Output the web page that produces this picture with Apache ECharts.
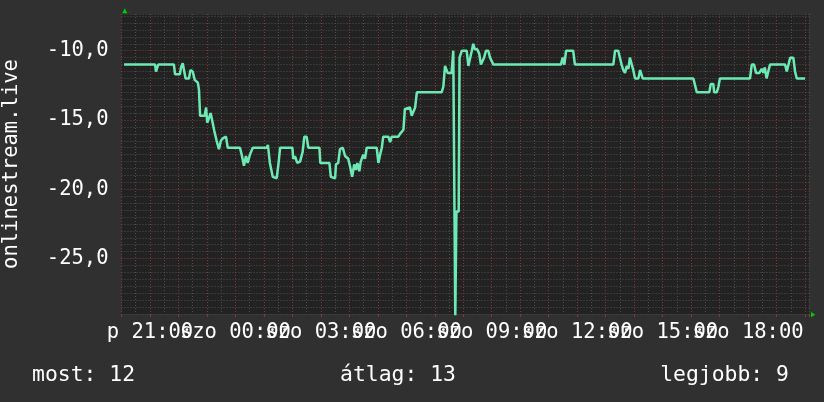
<!DOCTYPE html>
<html>
<head>
<meta charset="utf-8">
<script src="https://cdn.jsdelivr.net/npm/echarts@6/dist/echarts.min.js"></script>
<style>
html,body{margin:0;padding:0;background:#303030;}
#chart{width:824px;height:402px;}
</style>
</head>
<body>
<div id="chart"></div>
<script>
// time in hours since Friday 00:00 (24 = Saturday 00:00)
const times = [
20.09,21.18,21.21,21.29,21.84,21.88,22.05,22.09,22.15,22.21,22.25,22.37,22.42,22.50,22.57,22.68,22.72,22.76,22.92,22.97,
23.01,23.08,23.13,23.20,23.26,23.34,23.42,23.49,23.57,23.67,23.73,24.16,24.22,24.30,24.37,24.43,24.51,24.61,25.10,25.14,
25.21,25.31,25.45,25.51,25.57,26.00,26.03,26.09,26.17,26.27,26.36,26.42,26.50,26.56,26.95,26.98,27.30,27.35,27.50,27.53,
27.61,27.67,27.77,27.85,27.96,28.02,28.10,28.14,28.17,28.23,28.28,28.35,28.40,28.49,28.55,28.61,28.96,29.02,29.08,29.14,
29.19,29.37,29.43,29.49,29.72,29.78,29.90,29.95,30.13,30.19,30.25,30.31,30.37,31.24,31.30,31.36,31.42,31.45,31.59,31.65,
31.69,31.72,31.76,31.84,31.87,31.92,31.95,32.12,32.18,32.24,32.30,32.35,32.41,32.49,32.56,32.62,32.68,32.73,32.80,32.88,
32.94,33.00,33.06,35.43,35.49,35.55,35.61,35.86,35.92,37.27,37.33,37.44,37.50,37.56,37.62,37.68,37.74,37.80,37.85,37.91,
37.97,38.03,38.15,38.21,38.26,38.30,40.08,40.14,40.20,40.64,40.69,40.78,40.81,40.90,40.96,41.01,42.07,42.13,42.21,42.28,
42.40,42.48,42.54,42.59,42.65,42.71,42.77,43.30,43.36,43.48,43.59,43.65,43.71,44.00
];
const values = [
-11.0,-11.0,-11.5,-11.0,-11.0,-11.7,-11.7,-11.2,-10.9,-10.9,-12.0,-12.0,-11.4,-11.5,-12.1,-12.3,-12.8,-14.7,-14.7,-14.1,
-15.2,-14.8,-14.5,-15.2,-15.8,-16.5,-17.1,-16.5,-16.3,-16.2,-17.0,-17.0,-17.5,-18.3,-17.6,-18.1,-17.5,-17.0,-17.0,-16.8,
-18.1,-19.1,-19.2,-18.2,-17.0,-17.0,-17.8,-17.6,-18.1,-18.0,-17.3,-16.2,-16.2,-17.0,-17.0,-18.1,-18.1,-19.1,-19.2,-18.2,
-18.1,-17.1,-17.0,-17.6,-17.8,-18.3,-19.1,-19.2,-18.2,-18.6,-18.1,-18.7,-18.0,-17.5,-17.8,-17.0,-17.0,-18.1,-17.5,-17.0,
-16.2,-16.2,-16.6,-16.2,-16.2,-16.0,-15.7,-14.2,-14.1,-14.7,-14.7,-14.1,-13.0,-13.0,-12.6,-11.1,-11.1,-11.6,-11.6,-10.0,
-10.0,-29.3,-21.6,-21.6,-10.5,-10.5,-10.0,-10.0,-11.1,-11.1,-10.0,-9.5,-9.9,-9.9,-10.2,-11.0,-11.0,-10.5,-10.0,-10.0,
-10.5,-10.6,-11.0,-11.0,-10.5,-11.0,-10.0,-10.0,-11.0,-11.0,-10.0,-10.0,-10.5,-11.0,-11.4,-11.6,-11.1,-11.3,-10.5,-10.5,
-11.4,-12.0,-12.0,-11.4,-11.5,-12.0,-12.0,-12.5,-13.0,-13.0,-12.4,-12.4,-13.0,-13.0,-12.6,-12.0,-12.0,-11.0,-11.0,-11.6,
-11.6,-11.3,-11.6,-11.2,-12.0,-11.5,-11.0,-11.0,-11.5,-10.5,-10.5,-11.5,-12.0,-12.0
];
const seriesName = 'onlinestream.live';
const dayNames = ['p', 'szo'];
const summaryLabels = ['most', 'átlag', 'legjobb'];
const summaryValues = [12, 13, 9];

const FONT = '"DejaVu Sans Mono", monospace';
const RED = '#853838';
const GRAY = '#4f4f4f';
const yColors = [];
for (let i = 0; i < 10; i++) yColors.push(i === 8 ? RED : GRAY);

const data = times.map((t, i) => [t, values[i]]);

const chart = echarts.init(document.getElementById('chart'), null, {renderer: 'canvas'});
chart.setOption({
  backgroundColor: '#303030',
  animation: false,
  grid: {left: 121.5, top: 14, width: 687.5, height: 300, show: true, backgroundColor: '#222222', borderWidth: 0, containLabel: false, outerBoundsMode: 'none'},
  xAxis: [{
    type: 'value', min: 20, max: 44.14, interval: 0.5,
    axisLine: {show: false}, axisTick: {show: false},
    splitLine: {show: true, lineStyle: {color: [RED, GRAY], type: [1, 2], width: 1}},
    axisLabel: {
      color: '#ffffff', fontFamily: FONT, fontSize: 20.5, margin: 8,
      formatter: function (v) {
        if (Math.abs(v % 3) > 1e-6) return '';
        const d = v < 24 ? dayNames[0] : dayNames[1];
        const hh = Math.round(v % 24);
        return d + ' ' + (hh < 10 ? '0' : '') + hh + ':00';
      }
    }
  }, {
    type: 'value', min: 20, max: 44.14, interval: 1, position: 'bottom',
    axisLine: {show: false}, splitLine: {show: false}, axisLabel: {show: false},
    axisTick: {show: true, length: 3, lineStyle: {color: RED, width: 1}}
  }],
  yAxis: {
    type: 'value', min: -29, max: -7.35, interval: 0.5,
    axisLine: {show: false}, axisTick: {show: false},
    splitLine: {show: true, lineStyle: {color: yColors, type: [1, 2], width: 1}},
    axisLabel: {
      color: '#ffffff', fontFamily: FONT, fontSize: 20.5, margin: 13,
      formatter: function (v) {
        if (Math.abs(v % 5) > 1e-6) return '';
        return v.toFixed(1).replace('.', ',');
      }
    }
  },
  series: [{
    name: seriesName, type: 'line', xAxisIndex: 0, data: data,
    showSymbol: false, symbol: 'none', clip: true,
    lineStyle: {color: '#6deab3', width: 2.5}
  }],
  graphic: [
    {type: 'text', x: 12, y: 164, rotation: Math.PI / 2,
     style: {text: seriesName, fill: '#ffffff', font: '20.5px ' + FONT, align: 'center', verticalAlign: 'middle'}},
    {type: 'text', x: 32, y: 375,
     style: {text: summaryLabels[0] + ': ' + summaryValues[0], fill: '#ffffff', font: '21.4px ' + FONT, align: 'left', verticalAlign: 'middle'}},
    {type: 'text', x: 398, y: 375,
     style: {text: summaryLabels[1] + ': ' + summaryValues[1], fill: '#ffffff', font: '21.4px ' + FONT, align: 'center', verticalAlign: 'middle'}},
    {type: 'text', x: 789, y: 375,
     style: {text: summaryLabels[2] + ': ' + summaryValues[2], fill: '#ffffff', font: '21.4px ' + FONT, align: 'right', verticalAlign: 'middle'}},
    {type: 'polygon', shape: {points: [[122.3, 13.3], [124.8, 8.3], [127.3, 13.3]]}, style: {fill: '#00d000'}},
    {type: 'polygon', shape: {points: [[811, 312], [815.3, 314.7], [811, 317.3]]}, style: {fill: '#00d000'}}
  ]
});
</script>
</body>
</html>
